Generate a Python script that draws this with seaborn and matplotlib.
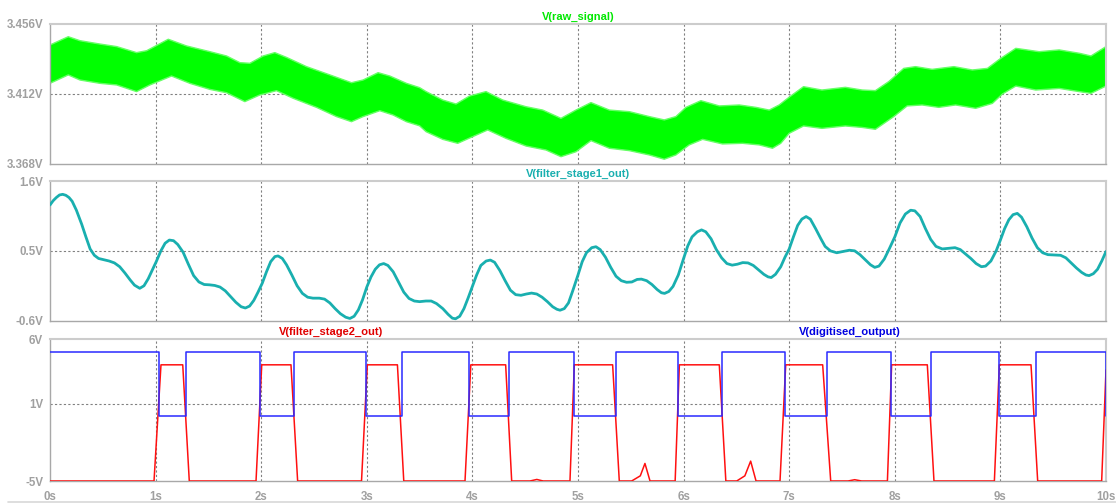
import numpy as np
import pandas as pd
import matplotlib
matplotlib.use("Agg")
import matplotlib.pyplot as plt
import seaborn as sns
from matplotlib.lines import Line2D

# ---------------- data ----------------
# V(raw_signal): envelope of the dense oscillation
raw_up_t = [0.0, 0.173, 0.284, 0.473, 0.631, 0.82, 0.915, 1.12, 1.293, 1.514, 1.672, 1.798, 1.893,
            2.019, 2.129, 2.24, 2.429, 2.65, 2.855, 2.965, 3.107, 3.218, 3.375, 3.50, 3.562, 3.719,
            3.845, 3.972, 4.129, 4.287, 4.508, 4.666, 4.839, 4.981, 5.123, 5.297, 5.486, 5.675,
            5.817, 5.927, 6.022, 6.164, 6.338, 6.527, 6.685, 6.811, 6.905, 7.0, 7.136, 7.31, 7.532,
            7.69, 7.816, 7.943, 8.085, 8.196, 8.354, 8.56, 8.734, 8.877, 9.003, 9.146, 9.367, 9.557,
            9.747, 9.858, 10.0]
raw_up_v = [3.4428, 3.4480, 3.4455, 3.4434, 3.4418, 3.4380, 3.4392, 3.4464, 3.4422, 3.4386, 3.4359,
            3.4317, 3.4313, 3.4359, 3.4380, 3.4350, 3.4292, 3.4240, 3.4191, 3.4208, 3.4254, 3.4233,
            3.4187, 3.4160, 3.4135, 3.4082, 3.4057, 3.4107, 3.4135, 3.4082, 3.4040, 3.4019, 3.3967,
            3.4019, 3.4066, 3.4019, 3.4009, 3.3978, 3.3957, 3.3978, 3.4036, 3.4078, 3.4045, 3.4051,
            3.4036, 3.4019, 3.4051, 3.4100, 3.4166, 3.4145, 3.4162, 3.4145, 3.4141, 3.4198, 3.4281,
            3.4292, 3.4275, 3.4292, 3.4271, 3.4281, 3.4344, 3.4407, 3.4386, 3.4397, 3.4376, 3.4359,
            3.4418]
raw_lo_t = [0.0, 0.173, 0.284, 0.473, 0.631, 0.82, 0.946, 1.151, 1.325, 1.514, 1.672, 1.845, 1.987,
            2.145, 2.303, 2.524, 2.713, 2.855, 2.965, 3.123, 3.249, 3.375, 3.50, 3.562, 3.719, 3.861,
            4.003, 4.145, 4.319, 4.508, 4.697, 4.839, 4.981, 5.123, 5.297, 5.486, 5.675, 5.817,
            5.927, 6.053, 6.18, 6.369, 6.558, 6.716, 6.842, 6.92, 7.0, 7.136, 7.31, 7.532, 7.69,
            7.816, 7.99, 8.117, 8.259, 8.417, 8.576, 8.766, 8.924, 9.019, 9.146, 9.335, 9.557, 9.747,
            9.858, 10.0]
raw_lo_v = [3.4187, 3.4240, 3.4208, 3.4187, 3.4177, 3.4135, 3.4177, 3.4233, 3.4187, 3.4149, 3.4128,
            3.4072, 3.4114, 3.4141, 3.4093, 3.4036, 3.3978, 3.3946, 3.3978, 3.4015, 3.3988, 3.3946,
            3.3920, 3.3883, 3.3835, 3.3810, 3.3852, 3.3894, 3.3841, 3.3793, 3.3768, 3.3726, 3.3757,
            3.3827, 3.3779, 3.3764, 3.3737, 3.3710, 3.3737, 3.3800, 3.3835, 3.3806, 3.3810, 3.3800,
            3.3779, 3.3810, 3.3873, 3.3919, 3.3904, 3.3919, 3.3910, 3.3898, 3.3978, 3.4045, 3.4051,
            3.4036, 3.4051, 3.4030, 3.4061, 3.4120, 3.4170, 3.4145, 3.4155, 3.4135, 3.4124, 3.4170]

# V(filter_stage1_out)
f1_t = [0.0, 0.03, 0.06, 0.09, 0.12, 0.15, 0.18, 0.21, 0.25, 0.30, 0.34, 0.38, 0.42, 0.46, 0.51,
        0.56, 0.61, 0.66, 0.71, 0.76, 0.80, 0.85, 0.89, 0.93, 0.97, 1.006, 1.05, 1.09, 1.13, 1.17,
        1.21, 1.26, 1.31, 1.36, 1.41, 1.46, 1.51, 1.56, 1.61, 1.66, 1.71, 1.76, 1.81, 1.85, 1.89,
        1.93, 1.97, 2.01, 2.05, 2.09, 2.13, 2.16, 2.20, 2.24, 2.29, 2.34, 2.39, 2.44, 2.49, 2.55,
        2.60, 2.65, 2.70, 2.75, 2.80, 2.84, 2.88, 2.92, 2.96, 3.0, 3.04, 3.08, 3.12, 3.16, 3.20,
        3.25, 3.30, 3.35, 3.40, 3.45, 3.50, 3.56, 3.61, 3.66, 3.72, 3.77, 3.81, 3.84, 3.88, 3.92,
        3.96, 4.0, 4.04, 4.08, 4.13, 4.17, 4.21, 4.26, 4.31, 4.36, 4.41, 4.46, 4.51, 4.56, 4.61,
        4.66, 4.71, 4.76, 4.80, 4.83, 4.87, 4.91, 4.95, 5.0, 5.04, 5.08, 5.13, 5.17, 5.21, 5.26,
        5.31, 5.36, 5.41, 5.46, 5.51, 5.56, 5.60, 5.65, 5.70, 5.75, 5.79, 5.82, 5.86, 5.90, 5.95,
        6.0, 6.04, 6.08, 6.13, 6.17, 6.21, 6.26, 6.31, 6.36, 6.41, 6.46, 6.51, 6.56, 6.61, 6.66,
        6.71, 6.76, 6.80, 6.83, 6.87, 6.92, 6.96, 7.0, 7.04, 7.08, 7.12, 7.16, 7.20, 7.25, 7.30,
        7.34, 7.39, 7.45, 7.51, 7.57, 7.62, 7.67, 7.72, 7.77, 7.81, 7.85, 7.90, 7.95, 8.0, 8.05,
        8.10, 8.15, 8.19, 8.24, 8.29, 8.34, 8.39, 8.45, 8.51, 8.57, 8.62, 8.67, 8.72, 8.77, 8.82,
        8.86, 8.91, 8.96, 9.0, 9.04, 9.08, 9.12, 9.16, 9.20, 9.25, 9.30, 9.35, 9.40, 9.45, 9.51,
        9.57, 9.62, 9.67, 9.72, 9.77, 9.81, 9.84, 9.88, 9.92, 9.96, 10.0]
f1_v = [1.222, 1.29, 1.34, 1.38, 1.39, 1.375, 1.34, 1.28, 1.14, 0.92, 0.72, 0.53, 0.43, 0.38, 0.36,
        0.34, 0.31, 0.25, 0.15, 0.04, -0.04, -0.09, -0.05, 0.06, 0.20, 0.33, 0.50, 0.62, 0.67, 0.66,
        0.60, 0.48, 0.29, 0.11, 0.01, -0.03, -0.035, -0.045, -0.07, -0.13, -0.22, -0.31, -0.38,
        -0.40, -0.37, -0.28, -0.15, -0.01, 0.17, 0.33, 0.41, 0.42, 0.38, 0.28, 0.12, -0.05, -0.17,
        -0.23, -0.245, -0.245, -0.26, -0.32, -0.41, -0.49, -0.545, -0.565, -0.53, -0.43, -0.27,
        -0.07, 0.09, 0.21, 0.28, 0.30, 0.27, 0.17, 0.01, -0.15, -0.25, -0.29, -0.30, -0.29, -0.29,
        -0.33, -0.41, -0.50, -0.56, -0.57, -0.53, -0.41, -0.24, -0.06, 0.12, 0.27, 0.34, 0.355,
        0.32, 0.19, 0.03, -0.12, -0.19, -0.20, -0.18, -0.165, -0.18, -0.23, -0.30, -0.38, -0.42,
        -0.435, -0.41, -0.32, -0.13, 0.12, 0.33, 0.47, 0.55, 0.565, 0.52, 0.40, 0.24, 0.10, 0.03,
        0.005, 0.01, 0.05, 0.055, 0.03, -0.03, -0.11, -0.16, -0.17, -0.14, -0.06, 0.12, 0.38, 0.58,
        0.72, 0.80, 0.83, 0.80, 0.69, 0.52, 0.39, 0.30, 0.275, 0.29, 0.315, 0.31, 0.27, 0.20, 0.13,
        0.09, 0.08, 0.13, 0.25, 0.40, 0.53, 0.72, 0.90, 1.00, 1.04, 1.00, 0.85, 0.69, 0.57, 0.50,
        0.47, 0.49, 0.51, 0.50, 0.44, 0.36, 0.28, 0.24, 0.26, 0.37, 0.54, 0.72, 0.94, 1.08, 1.14,
        1.13, 1.04, 0.85, 0.68, 0.57, 0.53, 0.54, 0.55, 0.52, 0.45, 0.38, 0.30, 0.25, 0.26, 0.34,
        0.50, 0.67, 0.85, 0.99, 1.07, 1.09, 1.03, 0.88, 0.70, 0.55, 0.47, 0.44, 0.435, 0.43, 0.39,
        0.31, 0.23, 0.16, 0.12, 0.11, 0.14, 0.21, 0.34, 0.49]

# V(filter_stage2_out)
f2_t = [0.0, 0.985, 1.051, 1.257, 1.319, 1.951, 2.005, 2.282, 2.345, 2.95, 3.005, 3.29, 3.35,
        3.93, 3.985, 4.315, 4.372, 4.545, 4.61, 4.67, 4.924, 4.965, 5.328, 5.391, 5.508, 5.59,
        5.634, 5.682, 5.92, 5.96, 6.338, 6.40, 6.503, 6.58, 6.635, 6.686, 6.913, 6.967, 7.317,
        7.393, 7.557, 7.62, 7.686, 7.93, 7.97, 8.308, 8.371, 8.943, 8.99, 9.29, 9.353, 9.959, 10.0]
f2_v = [-5, -5, 4, 4, -5, -5, 4, 4, -5, -5, 4, 4, -5,
        -5, 4, 4, -5, -5, -4.88, -5, -5, 4, 4, -5, -5, -4.6,
        -3.64, -5, -5, 4, 4, -5, -5, -4.6, -3.46, -5, -5, 4, 4,
        -5, -5, -4.9, -5, -5, 4, 4, -5, -5, 4, 4, -5, -5, 3.6]

# V(digitised_output): edges of the 5 V / 0 V square wave
dig_fall = [1.029, 1.989, 2.99, 3.971, 4.959, 5.947, 6.960, 7.964, 8.984, 9.997]
dig_rise = [1.288, 2.313, 3.336, 4.344, 5.360, 6.366, 7.355, 8.340, 9.334]
dig_high, dig_low = 5.0, 0.0

# ---------------- styling ----------------
sns.set_style("white")
plt.rcParams['font.family'] = ['Liberation Sans', 'DejaVu Sans']

GREEN = "#00FF00"
CYAN = "#19AFAF"
RED = "#FF1010"
BLUE = "#2A2AFF"
TICKC = "#A0A0A0"

fig = plt.figure(figsize=(11.16, 5.03), dpi=100)
L, W = 50 / 1116, 1056 / 1116
ax1 = fig.add_axes([L, 1 - 164 / 503, W, 140 / 503])
ax2 = fig.add_axes([L, 1 - 320.7 / 503, W, 139.7 / 503])
ax3 = fig.add_axes([L, 1 - 481 / 503, W, 142 / 503])


def style(ax, ylim, yticks, ylabels, xlabels):
    ax.set_xlim(0, 10)
    ax.set_ylim(*ylim)
    ax.set_yticks(yticks)
    ax.set_yticklabels(ylabels)
    ax.set_xticks(range(0, 11))
    if xlabels:
        ax.set_xticklabels([f"{i}s" for i in range(0, 11)])
    else:
        ax.set_xticklabels([])
    ax.tick_params(axis='both', colors=TICKC, labelcolor=TICKC, labelsize=8.3,
                   length=4, width=1, pad=1)
    ax.tick_params(axis='x', length=4 if xlabels else 0, pad=3)
    for lab in ax.get_yticklabels() + ax.get_xticklabels():
        lab.set_fontweight('bold')
    for s in ['left', 'bottom']:
        ax.spines[s].set_color("#A8A8A8")
        ax.spines[s].set_linewidth(1.0)
    for s in ['top', 'right']:
        ax.spines[s].set_color("#CCCCCC")
        ax.spines[s].set_linewidth(1.5)
    for x in range(1, 10):
        ax.axvline(x, color="#808080", lw=0.8, ls=(0, (2, 2)), zorder=0)
    ax.axhline(yticks[1], color="#808080", lw=0.8, ls=(0, (2, 2)), zorder=0)
    ax.set_xlabel("")
    ax.set_ylabel("")


# top panel: raw signal band
poly_x = list(raw_up_t) + list(raw_lo_t[::-1])
poly_y = list(raw_up_v) + list(raw_lo_v[::-1])
ax1.fill(poly_x, poly_y, color=GREEN, lw=0, zorder=2)
sns.lineplot(x=raw_up_t, y=raw_up_v, ax=ax1, color="#66FF66", lw=1.0, estimator=None, sort=False, zorder=2)
sns.lineplot(x=raw_lo_t, y=raw_lo_v, ax=ax1, color="#66FF66", lw=1.0, estimator=None, sort=False, zorder=2)
style(ax1, (3.368, 3.456), [3.368, 3.412, 3.456], ["3.368V", "3.412V", "3.456V"], False)
ax1.set_title("V(raw_signal)", color="#00E800", fontsize=8, fontweight='bold', pad=3)

# middle panel
df1 = pd.DataFrame({"t": f1_t, "v": f1_v})
sns.lineplot(data=df1, x="t", y="v", ax=ax2, color=CYAN, lw=2.0, estimator=None, sort=False, zorder=3)
style(ax2, (-0.6, 1.6), [-0.6, 0.5, 1.6], ["-0.6V", "0.5V", "1.6V"], False)
ax2.set_title("V(filter_stage1_out)", color=CYAN, fontsize=8, fontweight='bold', pad=3)

# bottom panel
df2 = pd.DataFrame({"t": f2_t, "v": f2_v})
sns.lineplot(data=df2, x="t", y="v", ax=ax3, color=RED, lw=1.1, estimator=None, sort=False, zorder=3)

bt = [0.0]
bv = [dig_high]
edges = sorted([(t, dig_low) for t in dig_fall] + [(t, dig_high) for t in dig_rise])
for t, v in edges:
    bt += [t, t]
    bv += [bv[-1], v]
bt.append(10.0)
bv.append(bv[-1])
df3 = pd.DataFrame({"t": bt, "v": bv})
sns.lineplot(data=df3, x="t", y="v", ax=ax3, color=BLUE, lw=1.1, estimator=None, sort=False, zorder=4)
style(ax3, (-5, 6), [-5, 1, 6], ["-5V", "1V", "6V"], True)
ax3.text(0.266, 1.012, "V(filter_stage2_out)", transform=ax3.transAxes, ha='center', va='bottom',
         color="#E00000", fontsize=8, fontweight='bold')
ax3.text(0.757, 1.012, "V(digitised_output)", transform=ax3.transAxes, ha='center', va='bottom',
         color="#0000E0", fontsize=8, fontweight='bold')

fig.add_artist(Line2D([8 / 1116, 1.0], [1 - 502 / 503, 1 - 502 / 503], color="#D8D8D8", lw=1.2))

fig.savefig("out.png", dpi=100)
